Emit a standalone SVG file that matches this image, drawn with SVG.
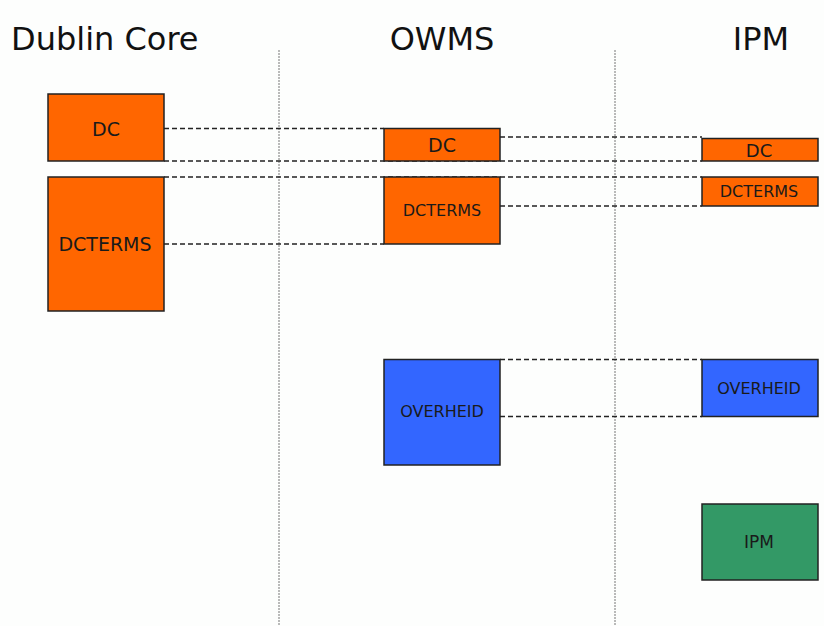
<svg xmlns="http://www.w3.org/2000/svg" width="824" height="626" viewBox="0 0 824 626">
  <style>
    .title { font-family: "DejaVu Sans", "Liberation Sans", sans-serif; font-size: 32px; fill: #111; }
    .label { font-family: "DejaVu Sans", "Liberation Sans", sans-serif; fill: #1a1a1a; text-anchor: middle; }
    .box { stroke: #222; stroke-width: 1.5; }
    .dc { fill: #FF6600; }
    .gov { fill: #3366FF; }
    .ipm { fill: #339966; }
    .link { stroke: #222; stroke-width: 1.4; stroke-dasharray: 5 3; fill: none; }
    .divider { stroke: #777; stroke-width: 1; stroke-dasharray: 2 1; }
  </style>
  <rect width="824" height="626" fill="#fdfefd"/>

  <!-- column headings -->
  <text class="title" x="11" y="50">Dublin Core</text>
  <text class="title" x="442" y="50" text-anchor="middle">OWMS</text>
  <text class="title" x="761" y="50" text-anchor="middle">IPM</text>

  <!-- column dividers -->
  <g id="dividers">
    <line class="divider" x1="279" y1="50" x2="279" y2="626"/>
    <line class="divider" x1="615" y1="50" x2="615" y2="626"/>
  </g>

  <!-- dashed mappings between schemas -->
  <g id="connectors">
    <line class="link" x1="164" y1="128.5" x2="384" y2="128.5"/>
    <line class="link" x1="164" y1="161" x2="702" y2="161"/>
    <line class="link" x1="164" y1="177" x2="702" y2="177"/>
    <line class="link" x1="164" y1="244" x2="384" y2="244"/>
    <line class="link" x1="500" y1="137" x2="702" y2="137"/>
    <line class="link" x1="500" y1="206" x2="702" y2="206"/>
    <line class="link" x1="500" y1="359.5" x2="702" y2="359.5"/>
    <line class="link" x1="500" y1="416.5" x2="702" y2="416.5"/>
  </g>

  <!-- Dublin Core -->
  <g id="dc-dc">
    <rect class="box dc" x="48" y="94" width="116" height="67"/>
    <text class="label" x="106" y="136" font-size="19">DC</text>
  </g>
  <g id="dc-dcterms">
    <rect class="box dc" x="48" y="177" width="116" height="134"/>
    <text class="label" x="105" y="251" font-size="19">DCTERMS</text>
  </g>

  <!-- OWMS -->
  <g id="owms-dc">
    <rect class="box dc" x="384" y="128.5" width="116" height="32.5"/>
    <text class="label" x="442" y="152" font-size="19">DC</text>
  </g>
  <g id="owms-dcterms">
    <rect class="box dc" x="384" y="177" width="116" height="67"/>
    <text class="label" x="442" y="216" font-size="16">DCTERMS</text>
  </g>
  <g id="owms-overheid">
    <rect class="box gov" x="384" y="359.5" width="116" height="105.5"/>
    <text class="label" x="442" y="417" font-size="16">OVERHEID</text>
  </g>

  <!-- IPM -->
  <g id="ipm-dc">
    <rect class="box dc" x="702" y="138.5" width="116" height="22.5"/>
    <text class="label" x="759" y="156.5" font-size="18">DC</text>
  </g>
  <g id="ipm-dcterms">
    <rect class="box dc" x="702" y="177" width="116" height="29"/>
    <text class="label" x="759" y="196.5" font-size="16">DCTERMS</text>
  </g>
  <g id="ipm-overheid">
    <rect class="box gov" x="702" y="359.5" width="116" height="57"/>
    <text class="label" x="759" y="393.5" font-size="16">OVERHEID</text>
  </g>
  <g id="ipm-ipm">
    <rect class="box ipm" x="702" y="504" width="116" height="76"/>
    <text class="label" x="759" y="548" font-size="17">IPM</text>
  </g>
</svg>
